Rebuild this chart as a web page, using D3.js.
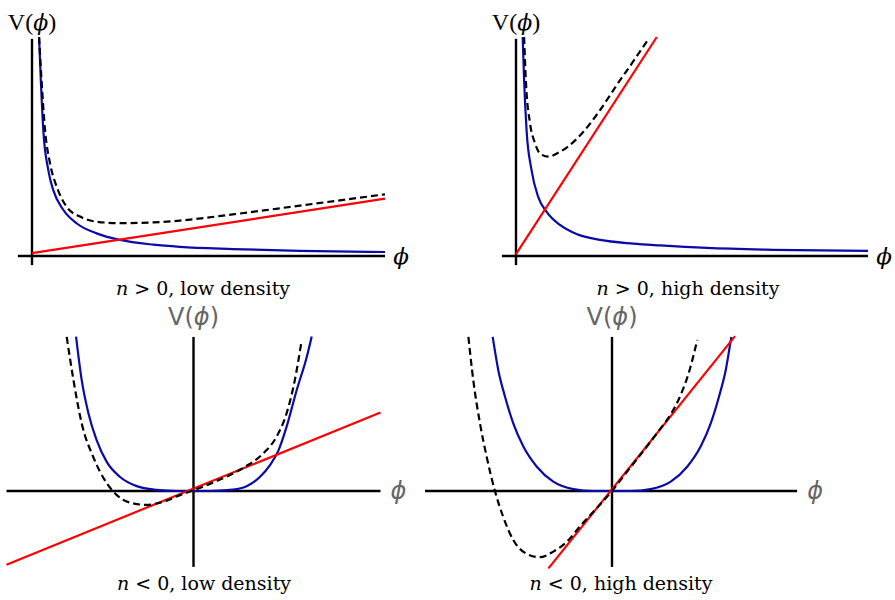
<!DOCTYPE html>
<html>
<head>
<meta charset="utf-8">
<script src="https://cdn.jsdelivr.net/npm/d3@7"></script>
<style>
  body { margin: 0; background: #fff; }
  svg { display: block; }
</style>
</head>
<body>
<div id="chart"></div>
<script>
// values, as [phi, V] pairs in arbitrary units

// n > 0, low density
const posLowPotential = [[0.2, 6.0], [0.25, 4.82], [0.32, 3.45], [0.46, 2.36], [0.6, 1.81], [0.89, 1.26], [1.27, 0.89], [1.83, 0.62], [2.49, 0.44], [3.44, 0.31], [4.19, 0.25], [5.69, 0.19], [7.59, 0.14], [10, 0.11]]
const posLowCoupling = [[0, 0.08], [10, 1.57]]
const posLowEffective = [[0.2, 6.0], [0.27, 4.82], [0.37, 3.45], [0.51, 2.54], [0.7, 1.90], [0.98, 1.35], [1.36, 1.08], [1.83, 0.94], [2.49, 0.90], [3.44, 0.92], [4.19, 0.97], [5.69, 1.14], [7.59, 1.38], [10, 1.69]]

// n > 0, high density
const posHighPotential = [[0.19, 6.0], [0.23, 4.82], [0.3, 3.45], [0.44, 2.36], [0.63, 1.62], [0.87, 1.21], [1.25, 0.85], [1.72, 0.60], [2.39, 0.44], [3.33, 0.34], [4.09, 0.29], [5.42, 0.22], [7.3, 0.17], [10, 0.14]]
const posHighCoupling = [[0, 0.05], [4.0, 6.0]]
const posHighEffective = [[0.23, 6.0], [0.28, 4.81], [0.40, 3.63], [0.54, 3.09], [0.68, 2.81], [0.92, 2.72], [1.16, 2.81], [1.44, 2.97], [1.91, 3.40], [2.39, 4.0], [2.86, 4.68], [3.33, 5.33], [3.78, 5.97]]

// n < 0, low density
const negLowPotential = [[-3.14, 4.13], [-2.99, 2.97], [-2.81, 2.08], [-2.59, 1.36], [-2.32, 0.78], [-1.97, 0.38], [-1.52, 0.13], [-0.98, 0.03], [-0.45, 0], [0, 0], [0.44, 0], [0.98, 0.03], [1.42, 0.13], [1.78, 0.38], [2.05, 0.70], [2.27, 1.08], [2.49, 1.72], [2.76, 2.70], [3.03, 3.59], [3.16, 4.13]]
const negLowCoupling = [[-5, -1.97], [5, 2.1]]
const negLowEffective = [[-3.39, 4.12], [-3.21, 2.97], [-2.99, 1.81], [-2.68, 0.91], [-2.32, 0.21], [-2.05, -0.11], [-1.70, -0.31], [-1.25, -0.37], [-0.81, -0.29], [-0.36, -0.11], [0, 0.02], [0.44, 0.19], [0.98, 0.43], [1.42, 0.67], [1.87, 1.01], [2.22, 1.45], [2.49, 2.08], [2.71, 2.97], [2.89, 4.01]]

// n < 0, high density
const negHighPotential = [[-3.19, 4.12], [-3.04, 3.23], [-2.86, 2.52], [-2.64, 1.81], [-2.37, 1.19], [-2.01, 0.65], [-1.57, 0.25], [-1.03, 0.05], [-0.50, 0], [0, 0], [0.50, 0], [1.03, 0.05], [1.57, 0.25], [2.01, 0.65], [2.37, 1.19], [2.64, 1.81], [2.86, 2.52], [3.04, 3.23], [3.19, 4.12]]
const negHighCoupling = [[-1.70, -2.07], [3.29, 4.14]]
const negHighEffective = [[-3.84, 4.12], [-3.71, 2.97], [-3.53, 1.81], [-3.35, 0.91], [-3.13, 0], [-2.91, -0.69], [-2.64, -1.31], [-2.28, -1.68], [-1.93, -1.77], [-1.57, -1.62], [-1.21, -1.36], [-0.86, -0.95], [-0.41, -0.46], [0, 0], [0.39, 0.5], [0.84, 1.07], [1.28, 1.65], [1.6, 2.1], [1.85, 2.6], [2.05, 3.15], [2.28, 4.04]]

const captions = [
  ['n', ' > 0, low density'],
  ['n', ' > 0, high density'],
  ['n', ' < 0, low density'],
  ['n', ' < 0, high density']
]

const width = 895
const height = 600
const blue = '#0a0aaa'
const red = '#ff0000'
const serif = '"Liberation Serif", "DejaVu Serif", serif'
const wideSerif = '"DejaVu Serif", serif'
const sans = '"DejaVu Sans", "Open Sans", sans-serif'
const phi = '\u03D5'

const panels = [
  {
    potential: posLowPotential, coupling: posLowCoupling, effective: posLowEffective, caption: captions[0],
    xDomain: [0, 10], xRange: [32, 385], yDomain: [0, 6], yRange: [256, 37],
    xExtent: [-0.4, 10], yExtent: [-0.25, 5.95], captionX: 203, captionY: 295, style: 'serif'
  },
  {
    potential: posHighPotential, coupling: posHighCoupling, effective: posHighEffective, caption: captions[1],
    xDomain: [0, 10], xRange: [516, 868], yDomain: [0, 6], yRange: [256, 37],
    xExtent: [-0.4, 10], yExtent: [-0.25, 5.95], captionX: 688, captionY: 295, style: 'serif'
  },
  {
    potential: negLowPotential, coupling: negLowCoupling, effective: negLowEffective, caption: captions[2],
    xDomain: [-5, 5], xRange: [6.5, 380.5], yDomain: [0, 4], yRange: [491, 341.4],
    xExtent: [-5, 5], yExtent: [-2.03, 4.12], captionX: 204, captionY: 590, style: 'sans'
  },
  {
    potential: negHighPotential, coupling: negHighCoupling, effective: negHighEffective, caption: captions[3],
    xDomain: [-5, 5], xRange: [425, 799], yDomain: [0, 4], yRange: [491, 341.4],
    xExtent: [-5, 4.95], yExtent: [-2.03, 4.12], captionX: 621, captionY: 590, style: 'sans'
  }
]

const svg = d3.select('#chart').append('svg')
  .attr('width', width)
  .attr('height', height)

panels.forEach(p => drawPanel(p))

function drawPanel (p) {
  const x = d3.scaleLinear().domain(p.xDomain).range(p.xRange)
  const y = d3.scaleLinear().domain(p.yDomain).range(p.yRange)
  const g = svg.append('g')

  // axes through the origin
  g.append('line')
    .attr('x1', x(p.xExtent[0])).attr('x2', x(p.xExtent[1]))
    .attr('y1', y(0)).attr('y2', y(0))
    .style('stroke', '#000').style('stroke-width', 2.4)
  g.append('line')
    .attr('x1', x(0)).attr('x2', x(0))
    .attr('y1', y(p.yExtent[0])).attr('y2', y(p.yExtent[1]))
    .style('stroke', '#000').style('stroke-width', 2.4)

  const line = d3.line()
    .x(d => x(d[0]))
    .y(d => y(d[1]))
    .curve(d3.curveMonotoneX)

  g.append('path').datum(p.potential)
    .attr('d', line)
    .style('fill', 'none').style('stroke', blue).style('stroke-width', 2.2)
  g.append('path').datum(p.coupling)
    .attr('d', line)
    .style('fill', 'none').style('stroke', red).style('stroke-width', 2.2)
  g.append('path').datum(p.effective)
    .attr('d', line)
    .style('fill', 'none').style('stroke', '#000').style('stroke-width', 2.2)
    .style('stroke-dasharray', '7,4')

  const isSerif = p.style === 'serif'
  const labelColor = isSerif ? '#000' : '#666'

  // V(phi) label above the vertical axis
  const vLabel = g.append('text')
    .attr('x', x(0))
    .attr('y', isSerif ? 30 : 325)
    .attr('text-anchor', 'middle')
    .style('font-family', isSerif ? serif : sans)
    .style('font-size', isSerif ? '24px' : '24px')
    .style('fill', labelColor)
  vLabel.append('tspan').text('V(')
  vLabel.append('tspan').text(phi).style('font-style', 'italic')
    .style('font-family', isSerif ? wideSerif : sans)
    .style('font-size', isSerif ? '22px' : '24px')
  vLabel.append('tspan').text(')')

  // phi label at the end of the horizontal axis
  g.append('text')
    .attr('x', x(p.xExtent[1]) + (isSerif ? 16 : 18))
    .attr('y', y(0) + 8)
    .attr('text-anchor', 'middle')
    .style('font-family', isSerif ? wideSerif : sans)
    .style('font-style', 'italic')
    .style('font-size', isSerif ? '23px' : '24px')
    .style('fill', labelColor)
    .text(phi)

  // caption
  const cap = g.append('text')
    .attr('x', p.captionX)
    .attr('y', p.captionY)
    .attr('text-anchor', 'middle')
    .style('font-family', wideSerif)
    .style('font-size', '19px')
    .style('fill', '#000')
  cap.append('tspan').text(p.caption[0]).style('font-style', 'italic')
  cap.append('tspan').text(p.caption[1])
}
</script>
</body>
</html>
